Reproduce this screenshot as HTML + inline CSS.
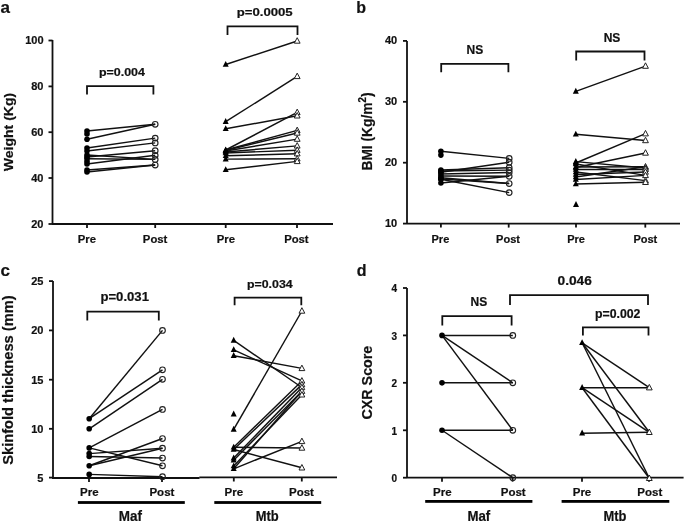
<!DOCTYPE html>
<html><head><meta charset="utf-8"><style>
html,body{margin:0;padding:0;background:#fff;}
body{width:685px;height:523px;overflow:hidden;}
svg{display:block;will-change:transform;}
text{font-family:"Liberation Sans",sans-serif;font-weight:bold;fill:#111;stroke:#111;stroke-width:0.2px;}
</style></head><body>
<svg width="685" height="523" viewBox="0 0 685 523">
<rect width="685" height="523" fill="#fff"/>
<text x="0.6" y="13" font-size="17" text-anchor="start">a</text>
<line x1="52.5" y1="40" x2="52.5" y2="224" stroke="#111" stroke-width="1.8" fill="none"/>
<line x1="48.5" y1="40.5" x2="52.5" y2="40.5" stroke="#111" stroke-width="1.8" fill="none"/>
<line x1="48.5" y1="86.4" x2="52.5" y2="86.4" stroke="#111" stroke-width="1.8" fill="none"/>
<line x1="48.5" y1="132.2" x2="52.5" y2="132.2" stroke="#111" stroke-width="1.8" fill="none"/>
<line x1="48.5" y1="178" x2="52.5" y2="178" stroke="#111" stroke-width="1.8" fill="none"/>
<line x1="48.5" y1="224" x2="52.5" y2="224" stroke="#111" stroke-width="1.8" fill="none"/>
<line x1="52" y1="224" x2="333" y2="224" stroke="#111" stroke-width="1.8" fill="none"/>
<line x1="87" y1="224" x2="87" y2="228" stroke="#111" stroke-width="1.8" fill="none"/>
<line x1="155.2" y1="224" x2="155.2" y2="228" stroke="#111" stroke-width="1.8" fill="none"/>
<line x1="225.7" y1="224" x2="225.7" y2="228" stroke="#111" stroke-width="1.8" fill="none"/>
<line x1="297" y1="224" x2="297" y2="228" stroke="#111" stroke-width="1.8" fill="none"/>
<text x="43.5" y="44.4" font-size="11" text-anchor="end">100</text>
<text x="43.5" y="90.30000000000001" font-size="11" text-anchor="end">80</text>
<text x="43.5" y="136.1" font-size="11" text-anchor="end">60</text>
<text x="43.5" y="181.9" font-size="11" text-anchor="end">40</text>
<text x="43.5" y="227.9" font-size="11" text-anchor="end">20</text>
<text x="86.9" y="242.6" font-size="11.3" text-anchor="middle">Pre</text>
<text x="155.1" y="242.6" font-size="11.3" text-anchor="middle">Post</text>
<text x="225.9" y="242.6" font-size="11.3" text-anchor="middle">Pre</text>
<text x="296.4" y="242.6" font-size="11.3" text-anchor="middle">Post</text>
<text transform="translate(12.8,132) rotate(-90)" x="0" y="0" font-size="13.5" text-anchor="middle" textLength="78.5" lengthAdjust="spacingAndGlyphs">Weight (Kg)</text>
<text x="121.9" y="76.2" font-size="11" text-anchor="middle" textLength="46" lengthAdjust="spacingAndGlyphs">p=0.004</text>
<path d="M87,94.5 V86.1 H153.4 V94.5" stroke="#111" stroke-width="1.8" fill="none"/>
<text x="264.7" y="16.3" font-size="11" text-anchor="middle" textLength="56" lengthAdjust="spacingAndGlyphs">p=0.0005</text>
<path d="M227.5,35 V26.3 H297.5 V35" stroke="#111" stroke-width="1.8" fill="none"/>
<line x1="87" y1="131.0" x2="155.2" y2="124.3" stroke="#111" stroke-width="1.45"/>
<line x1="87" y1="139.2" x2="155.2" y2="124.3" stroke="#111" stroke-width="1.45"/>
<line x1="87" y1="148.0" x2="155.2" y2="138.1" stroke="#111" stroke-width="1.45"/>
<line x1="87" y1="151.0" x2="155.2" y2="142.9" stroke="#111" stroke-width="1.45"/>
<line x1="87" y1="155.0" x2="155.2" y2="159.4" stroke="#111" stroke-width="1.45"/>
<line x1="87" y1="157.0" x2="155.2" y2="150.7" stroke="#111" stroke-width="1.45"/>
<line x1="87" y1="158.8" x2="155.2" y2="159.4" stroke="#111" stroke-width="1.45"/>
<line x1="87" y1="164.0" x2="155.2" y2="155.3" stroke="#111" stroke-width="1.45"/>
<line x1="87" y1="170.0" x2="155.2" y2="165.0" stroke="#111" stroke-width="1.45"/>
<line x1="87" y1="172.0" x2="155.2" y2="165.0" stroke="#111" stroke-width="1.45"/>
<circle cx="87" cy="131.0" r="2.8" fill="#000"/>
<circle cx="87" cy="139.2" r="2.8" fill="#000"/>
<circle cx="87" cy="148.0" r="2.8" fill="#000"/>
<circle cx="87" cy="151.0" r="2.8" fill="#000"/>
<circle cx="87" cy="155.0" r="2.8" fill="#000"/>
<circle cx="87" cy="157.0" r="2.8" fill="#000"/>
<circle cx="87" cy="158.8" r="2.8" fill="#000"/>
<circle cx="87" cy="164.0" r="2.8" fill="#000"/>
<circle cx="87" cy="170.0" r="2.8" fill="#000"/>
<circle cx="87" cy="172.0" r="2.8" fill="#000"/>
<circle cx="155.2" cy="124.3" r="2.8" fill="none" stroke="#222" stroke-width="1.15"/>
<circle cx="155.2" cy="138.1" r="2.8" fill="none" stroke="#222" stroke-width="1.15"/>
<circle cx="155.2" cy="142.9" r="2.8" fill="none" stroke="#222" stroke-width="1.15"/>
<circle cx="155.2" cy="150.7" r="2.8" fill="none" stroke="#222" stroke-width="1.15"/>
<circle cx="155.2" cy="155.3" r="2.8" fill="none" stroke="#222" stroke-width="1.15"/>
<circle cx="155.2" cy="159.4" r="2.8" fill="none" stroke="#222" stroke-width="1.15"/>
<circle cx="155.2" cy="165.0" r="2.8" fill="none" stroke="#222" stroke-width="1.15"/>
<circle cx="87" cy="134.0" r="2.8" fill="#000"/>
<circle cx="87" cy="161.5" r="2.8" fill="#000"/>
<line x1="225.7" y1="64.5" x2="297.2" y2="41" stroke="#111" stroke-width="1.45"/>
<line x1="225.7" y1="121.7" x2="297.2" y2="76.4" stroke="#111" stroke-width="1.45"/>
<line x1="225.7" y1="128.8" x2="297.2" y2="115.8" stroke="#111" stroke-width="1.45"/>
<line x1="225.7" y1="150" x2="297.2" y2="112.4" stroke="#111" stroke-width="1.45"/>
<line x1="225.7" y1="150" x2="297.2" y2="130.4" stroke="#111" stroke-width="1.45"/>
<line x1="225.7" y1="150.5" x2="297.2" y2="133" stroke="#111" stroke-width="1.45"/>
<line x1="225.7" y1="151" x2="297.2" y2="139.1" stroke="#111" stroke-width="1.45"/>
<line x1="225.7" y1="152" x2="297.2" y2="145.9" stroke="#111" stroke-width="1.45"/>
<line x1="225.7" y1="153" x2="297.2" y2="150.2" stroke="#111" stroke-width="1.45"/>
<line x1="225.7" y1="155.8" x2="297.2" y2="153.7" stroke="#111" stroke-width="1.45"/>
<line x1="225.7" y1="159.1" x2="297.2" y2="158.8" stroke="#111" stroke-width="1.45"/>
<line x1="225.7" y1="169.8" x2="297.2" y2="161.4" stroke="#111" stroke-width="1.45"/>
<polygon points="225.7,60.90 222.70,66.80 228.70,66.80" fill="#000"/>
<polygon points="225.7,118.10 222.70,124.00 228.70,124.00" fill="#000"/>
<polygon points="225.7,125.20 222.70,131.10 228.70,131.10" fill="#000"/>
<polygon points="225.7,146.40 222.70,152.30 228.70,152.30" fill="#000"/>
<polygon points="225.7,146.90 222.70,152.80 228.70,152.80" fill="#000"/>
<polygon points="225.7,147.40 222.70,153.30 228.70,153.30" fill="#000"/>
<polygon points="225.7,148.40 222.70,154.30 228.70,154.30" fill="#000"/>
<polygon points="225.7,149.40 222.70,155.30 228.70,155.30" fill="#000"/>
<polygon points="225.7,152.20 222.70,158.10 228.70,158.10" fill="#000"/>
<polygon points="225.7,155.50 222.70,161.40 228.70,161.40" fill="#000"/>
<polygon points="225.7,166.20 222.70,172.10 228.70,172.10" fill="#000"/>
<polygon points="297.2,37.70 294.30,43.20 300.10,43.20" fill="#fff" stroke="#222" stroke-width="1.0"/>
<polygon points="297.2,73.10 294.30,78.60 300.10,78.60" fill="#fff" stroke="#222" stroke-width="1.0"/>
<polygon points="297.2,109.10 294.30,114.60 300.10,114.60" fill="#fff" stroke="#222" stroke-width="1.0"/>
<polygon points="297.2,112.50 294.30,118.00 300.10,118.00" fill="#fff" stroke="#222" stroke-width="1.0"/>
<polygon points="297.2,127.10 294.30,132.60 300.10,132.60" fill="#fff" stroke="#222" stroke-width="1.0"/>
<polygon points="297.2,129.70 294.30,135.20 300.10,135.20" fill="#fff" stroke="#222" stroke-width="1.0"/>
<polygon points="297.2,135.80 294.30,141.30 300.10,141.30" fill="#fff" stroke="#222" stroke-width="1.0"/>
<polygon points="297.2,142.60 294.30,148.10 300.10,148.10" fill="#fff" stroke="#222" stroke-width="1.0"/>
<polygon points="297.2,146.90 294.30,152.40 300.10,152.40" fill="#fff" stroke="#222" stroke-width="1.0"/>
<polygon points="297.2,150.40 294.30,155.90 300.10,155.90" fill="#fff" stroke="#222" stroke-width="1.0"/>
<polygon points="297.2,155.50 294.30,161.00 300.10,161.00" fill="#fff" stroke="#222" stroke-width="1.0"/>
<polygon points="297.2,158.10 294.30,163.60 300.10,163.60" fill="#fff" stroke="#222" stroke-width="1.0"/>
<text x="356.2" y="13.2" font-size="16" text-anchor="start">b</text>
<line x1="407" y1="40.9" x2="407" y2="223.6" stroke="#111" stroke-width="1.8" fill="none"/>
<line x1="403" y1="40.9" x2="407" y2="40.9" stroke="#111" stroke-width="1.8" fill="none"/>
<line x1="403" y1="101.8" x2="407" y2="101.8" stroke="#111" stroke-width="1.8" fill="none"/>
<line x1="403" y1="162.7" x2="407" y2="162.7" stroke="#111" stroke-width="1.8" fill="none"/>
<line x1="403" y1="223.6" x2="407" y2="223.6" stroke="#111" stroke-width="1.8" fill="none"/>
<line x1="407" y1="223.6" x2="680" y2="223.6" stroke="#111" stroke-width="1.8" fill="none"/>
<line x1="440.9" y1="223.6" x2="440.9" y2="227.6" stroke="#111" stroke-width="1.8" fill="none"/>
<line x1="508.7" y1="223.6" x2="508.7" y2="227.6" stroke="#111" stroke-width="1.8" fill="none"/>
<line x1="576" y1="223.6" x2="576" y2="227.6" stroke="#111" stroke-width="1.8" fill="none"/>
<line x1="645.3" y1="223.6" x2="645.3" y2="227.6" stroke="#111" stroke-width="1.8" fill="none"/>
<text x="397.2" y="44.3" font-size="11" text-anchor="end">40</text>
<text x="397.2" y="105.2" font-size="11" text-anchor="end">30</text>
<text x="397.2" y="166.1" font-size="11" text-anchor="end">20</text>
<text x="397.2" y="227.0" font-size="11" text-anchor="end">10</text>
<text x="440.4" y="242.7" font-size="11" text-anchor="middle">Pre</text>
<text x="508.0" y="242.7" font-size="11" text-anchor="middle">Post</text>
<text x="576" y="242.7" font-size="11" text-anchor="middle">Pre</text>
<text x="645.3" y="242.7" font-size="11" text-anchor="middle">Post</text>
<text transform="translate(372.3,131.5) rotate(-90)" font-size="14" text-anchor="middle" textLength="78" lengthAdjust="spacingAndGlyphs">BMI (Kg/m<tspan font-size="10" dy="-6.3">2</tspan><tspan dy="6.3">)</tspan></text>
<text x="474.9" y="54" font-size="12" text-anchor="middle">NS</text>
<path d="M441.2,72.3 V63.9 H508.4 V72.3" stroke="#111" stroke-width="1.8" fill="none"/>
<text x="612" y="41.5" font-size="12" text-anchor="middle">NS</text>
<path d="M576.2,60.4 V51.5 H644.5 V60.4" stroke="#111" stroke-width="1.8" fill="none"/>
<line x1="440.9" y1="151.2" x2="509.2" y2="158.4" stroke="#111" stroke-width="1.45"/>
<line x1="440.9" y1="172.2" x2="509.2" y2="162.2" stroke="#111" stroke-width="1.45"/>
<line x1="440.9" y1="170.0" x2="509.2" y2="167.7" stroke="#111" stroke-width="1.45"/>
<line x1="440.9" y1="171.0" x2="509.2" y2="170.1" stroke="#111" stroke-width="1.45"/>
<line x1="440.9" y1="174.0" x2="509.2" y2="172.5" stroke="#111" stroke-width="1.45"/>
<line x1="440.9" y1="176.0" x2="509.2" y2="176.3" stroke="#111" stroke-width="1.45"/>
<line x1="440.9" y1="183.0" x2="509.2" y2="176.3" stroke="#111" stroke-width="1.45"/>
<line x1="440.9" y1="177.7" x2="509.2" y2="183.5" stroke="#111" stroke-width="1.45"/>
<line x1="440.9" y1="179.0" x2="509.2" y2="183.5" stroke="#111" stroke-width="1.45"/>
<line x1="440.9" y1="179.2" x2="509.2" y2="192.6" stroke="#111" stroke-width="1.45"/>
<circle cx="440.9" cy="151.2" r="2.8" fill="#000"/>
<circle cx="440.9" cy="170.0" r="2.8" fill="#000"/>
<circle cx="440.9" cy="171.0" r="2.8" fill="#000"/>
<circle cx="440.9" cy="172.2" r="2.8" fill="#000"/>
<circle cx="440.9" cy="174.0" r="2.8" fill="#000"/>
<circle cx="440.9" cy="176.0" r="2.8" fill="#000"/>
<circle cx="440.9" cy="177.7" r="2.8" fill="#000"/>
<circle cx="440.9" cy="179.0" r="2.8" fill="#000"/>
<circle cx="440.9" cy="179.2" r="2.8" fill="#000"/>
<circle cx="440.9" cy="183.0" r="2.8" fill="#000"/>
<circle cx="509.2" cy="158.4" r="2.8" fill="none" stroke="#222" stroke-width="1.15"/>
<circle cx="509.2" cy="162.2" r="2.8" fill="none" stroke="#222" stroke-width="1.15"/>
<circle cx="509.2" cy="167.7" r="2.8" fill="none" stroke="#222" stroke-width="1.15"/>
<circle cx="509.2" cy="170.1" r="2.8" fill="none" stroke="#222" stroke-width="1.15"/>
<circle cx="509.2" cy="172.5" r="2.8" fill="none" stroke="#222" stroke-width="1.15"/>
<circle cx="509.2" cy="176.3" r="2.8" fill="none" stroke="#222" stroke-width="1.15"/>
<circle cx="509.2" cy="183.5" r="2.8" fill="none" stroke="#222" stroke-width="1.15"/>
<circle cx="509.2" cy="192.6" r="2.8" fill="none" stroke="#222" stroke-width="1.15"/>
<circle cx="440.9" cy="155.1" r="2.8" fill="#000"/>
<line x1="575.8" y1="91.4" x2="645.5" y2="66.1" stroke="#111" stroke-width="1.45"/>
<line x1="575.8" y1="134.3" x2="645.5" y2="140.5" stroke="#111" stroke-width="1.45"/>
<line x1="575.8" y1="163.0" x2="645.5" y2="133.7" stroke="#111" stroke-width="1.45"/>
<line x1="575.8" y1="167.5" x2="645.5" y2="153.0" stroke="#111" stroke-width="1.45"/>
<line x1="575.8" y1="161.6" x2="645.5" y2="168.0" stroke="#111" stroke-width="1.45"/>
<line x1="575.8" y1="164.0" x2="645.5" y2="175.4" stroke="#111" stroke-width="1.45"/>
<line x1="575.8" y1="167.0" x2="645.5" y2="166.8" stroke="#111" stroke-width="1.45"/>
<line x1="575.8" y1="169.5" x2="645.5" y2="169.4" stroke="#111" stroke-width="1.45"/>
<line x1="575.8" y1="172.0" x2="645.5" y2="180.6" stroke="#111" stroke-width="1.45"/>
<line x1="575.8" y1="174.5" x2="645.5" y2="172.0" stroke="#111" stroke-width="1.45"/>
<line x1="575.8" y1="177.0" x2="645.5" y2="166.8" stroke="#111" stroke-width="1.45"/>
<line x1="575.8" y1="179.5" x2="645.5" y2="175.4" stroke="#111" stroke-width="1.45"/>
<line x1="575.8" y1="184.0" x2="645.5" y2="182.3" stroke="#111" stroke-width="1.45"/>
<polygon points="575.8,87.80 572.80,93.70 578.80,93.70" fill="#000"/>
<polygon points="575.8,130.70 572.80,136.60 578.80,136.60" fill="#000"/>
<polygon points="575.8,158.00 572.80,163.90 578.80,163.90" fill="#000"/>
<polygon points="575.8,159.40 572.80,165.30 578.80,165.30" fill="#000"/>
<polygon points="575.8,160.40 572.80,166.30 578.80,166.30" fill="#000"/>
<polygon points="575.8,163.40 572.80,169.30 578.80,169.30" fill="#000"/>
<polygon points="575.8,163.90 572.80,169.80 578.80,169.80" fill="#000"/>
<polygon points="575.8,165.90 572.80,171.80 578.80,171.80" fill="#000"/>
<polygon points="575.8,168.40 572.80,174.30 578.80,174.30" fill="#000"/>
<polygon points="575.8,170.90 572.80,176.80 578.80,176.80" fill="#000"/>
<polygon points="575.8,173.40 572.80,179.30 578.80,179.30" fill="#000"/>
<polygon points="575.8,175.90 572.80,181.80 578.80,181.80" fill="#000"/>
<polygon points="575.8,180.40 572.80,186.30 578.80,186.30" fill="#000"/>
<polygon points="645.5,62.80 642.60,68.30 648.40,68.30" fill="#fff" stroke="#222" stroke-width="1.0"/>
<polygon points="645.5,130.40 642.60,135.90 648.40,135.90" fill="#fff" stroke="#222" stroke-width="1.0"/>
<polygon points="645.5,137.20 642.60,142.70 648.40,142.70" fill="#fff" stroke="#222" stroke-width="1.0"/>
<polygon points="645.5,149.70 642.60,155.20 648.40,155.20" fill="#fff" stroke="#222" stroke-width="1.0"/>
<polygon points="645.5,163.50 642.60,169.00 648.40,169.00" fill="#fff" stroke="#222" stroke-width="1.0"/>
<polygon points="645.5,164.70 642.60,170.20 648.40,170.20" fill="#fff" stroke="#222" stroke-width="1.0"/>
<polygon points="645.5,166.10 642.60,171.60 648.40,171.60" fill="#fff" stroke="#222" stroke-width="1.0"/>
<polygon points="645.5,168.70 642.60,174.20 648.40,174.20" fill="#fff" stroke="#222" stroke-width="1.0"/>
<polygon points="645.5,172.10 642.60,177.60 648.40,177.60" fill="#fff" stroke="#222" stroke-width="1.0"/>
<polygon points="645.5,177.30 642.60,182.80 648.40,182.80" fill="#fff" stroke="#222" stroke-width="1.0"/>
<polygon points="645.5,179.00 642.60,184.50 648.40,184.50" fill="#fff" stroke="#222" stroke-width="1.0"/>
<polygon points="576,201.10 573.00,207.00 579.00,207.00" fill="#000"/>
<text x="0.4" y="276.3" font-size="17" text-anchor="start">c</text>
<line x1="53" y1="281.1" x2="53" y2="477.6" stroke="#111" stroke-width="1.8" fill="none"/>
<line x1="49" y1="281.1" x2="53" y2="281.1" stroke="#111" stroke-width="1.8" fill="none"/>
<line x1="49" y1="330.4" x2="53" y2="330.4" stroke="#111" stroke-width="1.8" fill="none"/>
<line x1="49" y1="379.7" x2="53" y2="379.7" stroke="#111" stroke-width="1.8" fill="none"/>
<line x1="49" y1="428.8" x2="53" y2="428.8" stroke="#111" stroke-width="1.8" fill="none"/>
<line x1="49" y1="477.6" x2="53" y2="477.6" stroke="#111" stroke-width="1.8" fill="none"/>
<line x1="52" y1="478" x2="199.5" y2="478" stroke="#111" stroke-width="1.8"/>
<line x1="199.3" y1="477.3" x2="337" y2="477.3" stroke="#111" stroke-width="1.8"/>
<line x1="89" y1="478" x2="89" y2="482" stroke="#111" stroke-width="1.8" fill="none"/>
<line x1="162" y1="478" x2="162" y2="482" stroke="#111" stroke-width="1.8" fill="none"/>
<line x1="233.8" y1="477.3" x2="233.8" y2="481.5" stroke="#111" stroke-width="1.8" fill="none"/>
<line x1="301.8" y1="477.3" x2="301.8" y2="481.5" stroke="#111" stroke-width="1.8" fill="none"/>
<text x="43.4" y="285.0" font-size="11" text-anchor="end">25</text>
<text x="43.4" y="334.29999999999995" font-size="11" text-anchor="end">20</text>
<text x="43.4" y="383.59999999999997" font-size="11" text-anchor="end">15</text>
<text x="43.4" y="432.7" font-size="11" text-anchor="end">10</text>
<text x="43.4" y="481.5" font-size="11" text-anchor="end">5</text>
<text x="89.3" y="496.2" font-size="11.5" text-anchor="middle">Pre</text>
<text x="161.9" y="496.2" font-size="11.5" text-anchor="middle">Post</text>
<text x="233.8" y="496.2" font-size="11.5" text-anchor="middle">Pre</text>
<text x="301.5" y="496.2" font-size="11.5" text-anchor="middle">Post</text>
<text transform="translate(13.1,380.1) rotate(-90)" x="0" y="0" font-size="14" text-anchor="middle" textLength="169.4" lengthAdjust="spacingAndGlyphs">Skinfold thickness (mm)</text>
<text x="124.7" y="301.4" font-size="13" text-anchor="middle" textLength="48.5" lengthAdjust="spacingAndGlyphs">p=0.031</text>
<path d="M87.3,320.4 V311.6 H158.8 V320.4" stroke="#111" stroke-width="1.8" fill="none"/>
<text x="269.8" y="287.9" font-size="10.5" text-anchor="middle" textLength="45.6" lengthAdjust="spacingAndGlyphs">p=0.034</text>
<path d="M234.6,305.3 V297.7 H301.3 V305.3" stroke="#111" stroke-width="1.8" fill="none"/>
<rect x="77.9" y="501.1" width="106.9" height="2.8" fill="#000"/>
<rect x="214.3" y="501.1" width="106.9" height="2.8" fill="#000"/>
<text x="130.4" y="520.8" font-size="14" text-anchor="middle" textLength="23.2" lengthAdjust="spacingAndGlyphs">Maf</text>
<text x="267.2" y="520.6" font-size="14" text-anchor="middle" textLength="23" lengthAdjust="spacingAndGlyphs">Mtb</text>
<line x1="89.2" y1="418.7" x2="162.5" y2="330.4" stroke="#111" stroke-width="1.45"/>
<line x1="89.2" y1="418.7" x2="162.5" y2="369.8" stroke="#111" stroke-width="1.45"/>
<line x1="89.2" y1="428.8" x2="162.5" y2="379.3" stroke="#111" stroke-width="1.45"/>
<line x1="89.2" y1="447.9" x2="162.5" y2="409.4" stroke="#111" stroke-width="1.45"/>
<line x1="89.2" y1="447.9" x2="162.5" y2="465.8" stroke="#111" stroke-width="1.45"/>
<line x1="89.2" y1="453.6" x2="162.5" y2="448.2" stroke="#111" stroke-width="1.45"/>
<line x1="89.2" y1="456.5" x2="162.5" y2="458.0" stroke="#111" stroke-width="1.45"/>
<line x1="89.2" y1="465.8" x2="162.5" y2="438.5" stroke="#111" stroke-width="1.45"/>
<line x1="89.2" y1="465.8" x2="162.5" y2="448.2" stroke="#111" stroke-width="1.45"/>
<line x1="89.2" y1="474.4" x2="162.5" y2="476.7" stroke="#111" stroke-width="1.45"/>
<circle cx="89.2" cy="418.7" r="2.8" fill="#000"/>
<circle cx="89.2" cy="428.8" r="2.8" fill="#000"/>
<circle cx="89.2" cy="447.9" r="2.8" fill="#000"/>
<circle cx="89.2" cy="453.6" r="2.8" fill="#000"/>
<circle cx="89.2" cy="456.5" r="2.8" fill="#000"/>
<circle cx="89.2" cy="465.8" r="2.8" fill="#000"/>
<circle cx="89.2" cy="474.4" r="2.8" fill="#000"/>
<circle cx="162.5" cy="330.4" r="2.8" fill="none" stroke="#222" stroke-width="1.15"/>
<circle cx="162.5" cy="369.8" r="2.8" fill="none" stroke="#222" stroke-width="1.15"/>
<circle cx="162.5" cy="379.3" r="2.8" fill="none" stroke="#222" stroke-width="1.15"/>
<circle cx="162.5" cy="409.4" r="2.8" fill="none" stroke="#222" stroke-width="1.15"/>
<circle cx="162.5" cy="438.5" r="2.8" fill="none" stroke="#222" stroke-width="1.15"/>
<circle cx="162.5" cy="448.2" r="2.8" fill="none" stroke="#222" stroke-width="1.15"/>
<circle cx="162.5" cy="458.0" r="2.8" fill="none" stroke="#222" stroke-width="1.15"/>
<circle cx="162.5" cy="465.8" r="2.8" fill="none" stroke="#222" stroke-width="1.15"/>
<circle cx="162.5" cy="476.7" r="2.8" fill="none" stroke="#222" stroke-width="1.15"/>
<line x1="233.7" y1="340.4" x2="301.9" y2="387.5" stroke="#111" stroke-width="1.45"/>
<line x1="233.7" y1="349.8" x2="301.9" y2="380.9" stroke="#111" stroke-width="1.45"/>
<line x1="233.7" y1="355.7" x2="301.9" y2="368.4" stroke="#111" stroke-width="1.45"/>
<line x1="233.7" y1="429.4" x2="301.9" y2="311.0" stroke="#111" stroke-width="1.45"/>
<line x1="233.7" y1="447.3" x2="301.9" y2="448.0" stroke="#111" stroke-width="1.45"/>
<line x1="233.7" y1="449.5" x2="301.9" y2="467.8" stroke="#111" stroke-width="1.45"/>
<line x1="233.7" y1="468.8" x2="301.9" y2="441.4" stroke="#111" stroke-width="1.45"/>
<line x1="233.7" y1="447.3" x2="301.9" y2="380.9" stroke="#111" stroke-width="1.45"/>
<line x1="233.7" y1="449.5" x2="301.9" y2="384.6" stroke="#111" stroke-width="1.45"/>
<line x1="233.7" y1="458.1" x2="301.9" y2="387.5" stroke="#111" stroke-width="1.45"/>
<line x1="233.7" y1="460.2" x2="301.9" y2="391.2" stroke="#111" stroke-width="1.45"/>
<line x1="233.7" y1="466.0" x2="301.9" y2="394.8" stroke="#111" stroke-width="1.45"/>
<line x1="233.7" y1="468.8" x2="301.9" y2="391.2" stroke="#111" stroke-width="1.45"/>
<polygon points="233.7,336.80 230.70,342.70 236.70,342.70" fill="#000"/>
<polygon points="233.7,346.20 230.70,352.10 236.70,352.10" fill="#000"/>
<polygon points="233.7,352.10 230.70,358.00 236.70,358.00" fill="#000"/>
<polygon points="233.7,425.80 230.70,431.70 236.70,431.70" fill="#000"/>
<polygon points="233.7,443.70 230.70,449.60 236.70,449.60" fill="#000"/>
<polygon points="233.7,445.90 230.70,451.80 236.70,451.80" fill="#000"/>
<polygon points="233.7,454.50 230.70,460.40 236.70,460.40" fill="#000"/>
<polygon points="233.7,456.60 230.70,462.50 236.70,462.50" fill="#000"/>
<polygon points="233.7,462.40 230.70,468.30 236.70,468.30" fill="#000"/>
<polygon points="233.7,465.20 230.70,471.10 236.70,471.10" fill="#000"/>
<polygon points="301.9,307.70 299.00,313.20 304.80,313.20" fill="#fff" stroke="#222" stroke-width="1.0"/>
<polygon points="301.9,365.10 299.00,370.60 304.80,370.60" fill="#fff" stroke="#222" stroke-width="1.0"/>
<polygon points="301.9,377.60 299.00,383.10 304.80,383.10" fill="#fff" stroke="#222" stroke-width="1.0"/>
<polygon points="301.9,381.30 299.00,386.80 304.80,386.80" fill="#fff" stroke="#222" stroke-width="1.0"/>
<polygon points="301.9,384.20 299.00,389.70 304.80,389.70" fill="#fff" stroke="#222" stroke-width="1.0"/>
<polygon points="301.9,387.90 299.00,393.40 304.80,393.40" fill="#fff" stroke="#222" stroke-width="1.0"/>
<polygon points="301.9,391.50 299.00,397.00 304.80,397.00" fill="#fff" stroke="#222" stroke-width="1.0"/>
<polygon points="301.9,438.10 299.00,443.60 304.80,443.60" fill="#fff" stroke="#222" stroke-width="1.0"/>
<polygon points="301.9,444.70 299.00,450.20 304.80,450.20" fill="#fff" stroke="#222" stroke-width="1.0"/>
<polygon points="301.9,464.50 299.00,470.00 304.80,470.00" fill="#fff" stroke="#222" stroke-width="1.0"/>
<polygon points="233.7,410.50 230.70,416.40 236.70,416.40" fill="#000"/>
<text x="356.8" y="276.3" font-size="16" text-anchor="start">d</text>
<line x1="407" y1="288" x2="407" y2="477.7" stroke="#111" stroke-width="1.8" fill="none"/>
<line x1="403" y1="288" x2="407" y2="288" stroke="#111" stroke-width="1.8" fill="none"/>
<line x1="403" y1="335.4" x2="407" y2="335.4" stroke="#111" stroke-width="1.8" fill="none"/>
<line x1="403" y1="382.8" x2="407" y2="382.8" stroke="#111" stroke-width="1.8" fill="none"/>
<line x1="403" y1="430.3" x2="407" y2="430.3" stroke="#111" stroke-width="1.8" fill="none"/>
<line x1="403" y1="477.7" x2="407" y2="477.7" stroke="#111" stroke-width="1.8" fill="none"/>
<line x1="407" y1="477.7" x2="683.6" y2="477.7" stroke="#111" stroke-width="1.8" fill="none"/>
<line x1="442" y1="477.7" x2="442" y2="481.7" stroke="#111" stroke-width="1.8" fill="none"/>
<line x1="512.6" y1="477.7" x2="512.6" y2="481.7" stroke="#111" stroke-width="1.8" fill="none"/>
<line x1="582" y1="477.7" x2="582" y2="481.7" stroke="#111" stroke-width="1.8" fill="none"/>
<line x1="649" y1="477.7" x2="649" y2="481.7" stroke="#111" stroke-width="1.8" fill="none"/>
<text x="397.0" y="292.3" font-size="10" text-anchor="end">4</text>
<text x="397.0" y="339.7" font-size="10" text-anchor="end">3</text>
<text x="397.0" y="387.1" font-size="10" text-anchor="end">2</text>
<text x="397.0" y="434.6" font-size="10" text-anchor="end">1</text>
<text x="397.0" y="482.0" font-size="10" text-anchor="end">0</text>
<text x="442.3" y="495.8" font-size="11.5" text-anchor="middle">Pre</text>
<text x="513.2" y="495.8" font-size="11.5" text-anchor="middle">Post</text>
<text x="582" y="495.8" font-size="11.5" text-anchor="middle">Pre</text>
<text x="649.8" y="495.8" font-size="11.5" text-anchor="middle">Post</text>
<text transform="translate(372.3,382.6) rotate(-90)" x="0" y="0" font-size="14" text-anchor="middle" textLength="73.7" lengthAdjust="spacingAndGlyphs">CXR Score</text>
<text x="478.9" y="306.1" font-size="12" text-anchor="middle">NS</text>
<path d="M442.3,325.4 V316.1 H511.6 V325.4" stroke="#111" stroke-width="1.8" fill="none"/>
<text x="574.7" y="285" font-size="12" text-anchor="middle" textLength="34.3" lengthAdjust="spacingAndGlyphs">0.046</text>
<path d="M510,305.1 V295.1 H648 V305.1" stroke="#111" stroke-width="1.8" fill="none"/>
<text x="617.7" y="317.8" font-size="12" text-anchor="middle" textLength="45.4" lengthAdjust="spacingAndGlyphs">p=0.002</text>
<path d="M582.9,335.5 V327.3 H648.5 V335.5" stroke="#111" stroke-width="1.8" fill="none"/>
<rect x="425.2" y="500" width="107.2" height="2.8" fill="#000"/>
<rect x="561.6" y="500" width="107.7" height="2.8" fill="#000"/>
<text x="478.8" y="520.8" font-size="14" text-anchor="middle" textLength="22.8" lengthAdjust="spacingAndGlyphs">Maf</text>
<text x="615" y="521" font-size="14" text-anchor="middle" textLength="23" lengthAdjust="spacingAndGlyphs">Mtb</text>
<line x1="442" y1="335.41" x2="512.8" y2="335.41" stroke="#111" stroke-width="1.45"/>
<line x1="442" y1="335.41" x2="512.8" y2="382.84" stroke="#111" stroke-width="1.45"/>
<line x1="442" y1="335.41" x2="512.8" y2="430.27" stroke="#111" stroke-width="1.45"/>
<line x1="442" y1="382.84" x2="512.8" y2="382.84" stroke="#111" stroke-width="1.45"/>
<line x1="442" y1="430.27" x2="512.8" y2="430.27" stroke="#111" stroke-width="1.45"/>
<line x1="442" y1="430.27" x2="512.8" y2="477.7" stroke="#111" stroke-width="1.45"/>
<circle cx="442" cy="335.41" r="2.8" fill="#000"/>
<circle cx="442" cy="382.84" r="2.8" fill="#000"/>
<circle cx="442" cy="430.27" r="2.8" fill="#000"/>
<circle cx="512.8" cy="335.41" r="2.8" fill="none" stroke="#222" stroke-width="1.15"/>
<circle cx="512.8" cy="382.84" r="2.8" fill="none" stroke="#222" stroke-width="1.15"/>
<circle cx="512.8" cy="430.27" r="2.8" fill="none" stroke="#222" stroke-width="1.15"/>
<circle cx="512.8" cy="477.7" r="2.8" fill="none" stroke="#222" stroke-width="1.15"/>
<line x1="582.1" y1="342.8" x2="649.3" y2="387.7" stroke="#111" stroke-width="1.45"/>
<line x1="582.1" y1="342.8" x2="649.3" y2="432.3" stroke="#111" stroke-width="1.45"/>
<line x1="582.1" y1="342.8" x2="649.3" y2="478.3" stroke="#111" stroke-width="1.45"/>
<line x1="582.1" y1="387.7" x2="649.3" y2="387.7" stroke="#111" stroke-width="1.45"/>
<line x1="582.1" y1="387.7" x2="649.3" y2="432.3" stroke="#111" stroke-width="1.45"/>
<line x1="582.1" y1="387.7" x2="649.3" y2="478.3" stroke="#111" stroke-width="1.45"/>
<line x1="582.1" y1="433.2" x2="649.3" y2="432.3" stroke="#111" stroke-width="1.45"/>
<polygon points="582.1,339.20 579.10,345.10 585.10,345.10" fill="#000"/>
<polygon points="582.1,384.10 579.10,390.00 585.10,390.00" fill="#000"/>
<polygon points="582.1,429.60 579.10,435.50 585.10,435.50" fill="#000"/>
<polygon points="649.3,384.40 646.40,389.90 652.20,389.90" fill="#fff" stroke="#222" stroke-width="1.0"/>
<polygon points="649.3,429.00 646.40,434.50 652.20,434.50" fill="#fff" stroke="#222" stroke-width="1.0"/>
<polygon points="649.3,475.00 646.40,480.50 652.20,480.50" fill="#fff" stroke="#222" stroke-width="1.0"/>
</svg>
</body></html>
